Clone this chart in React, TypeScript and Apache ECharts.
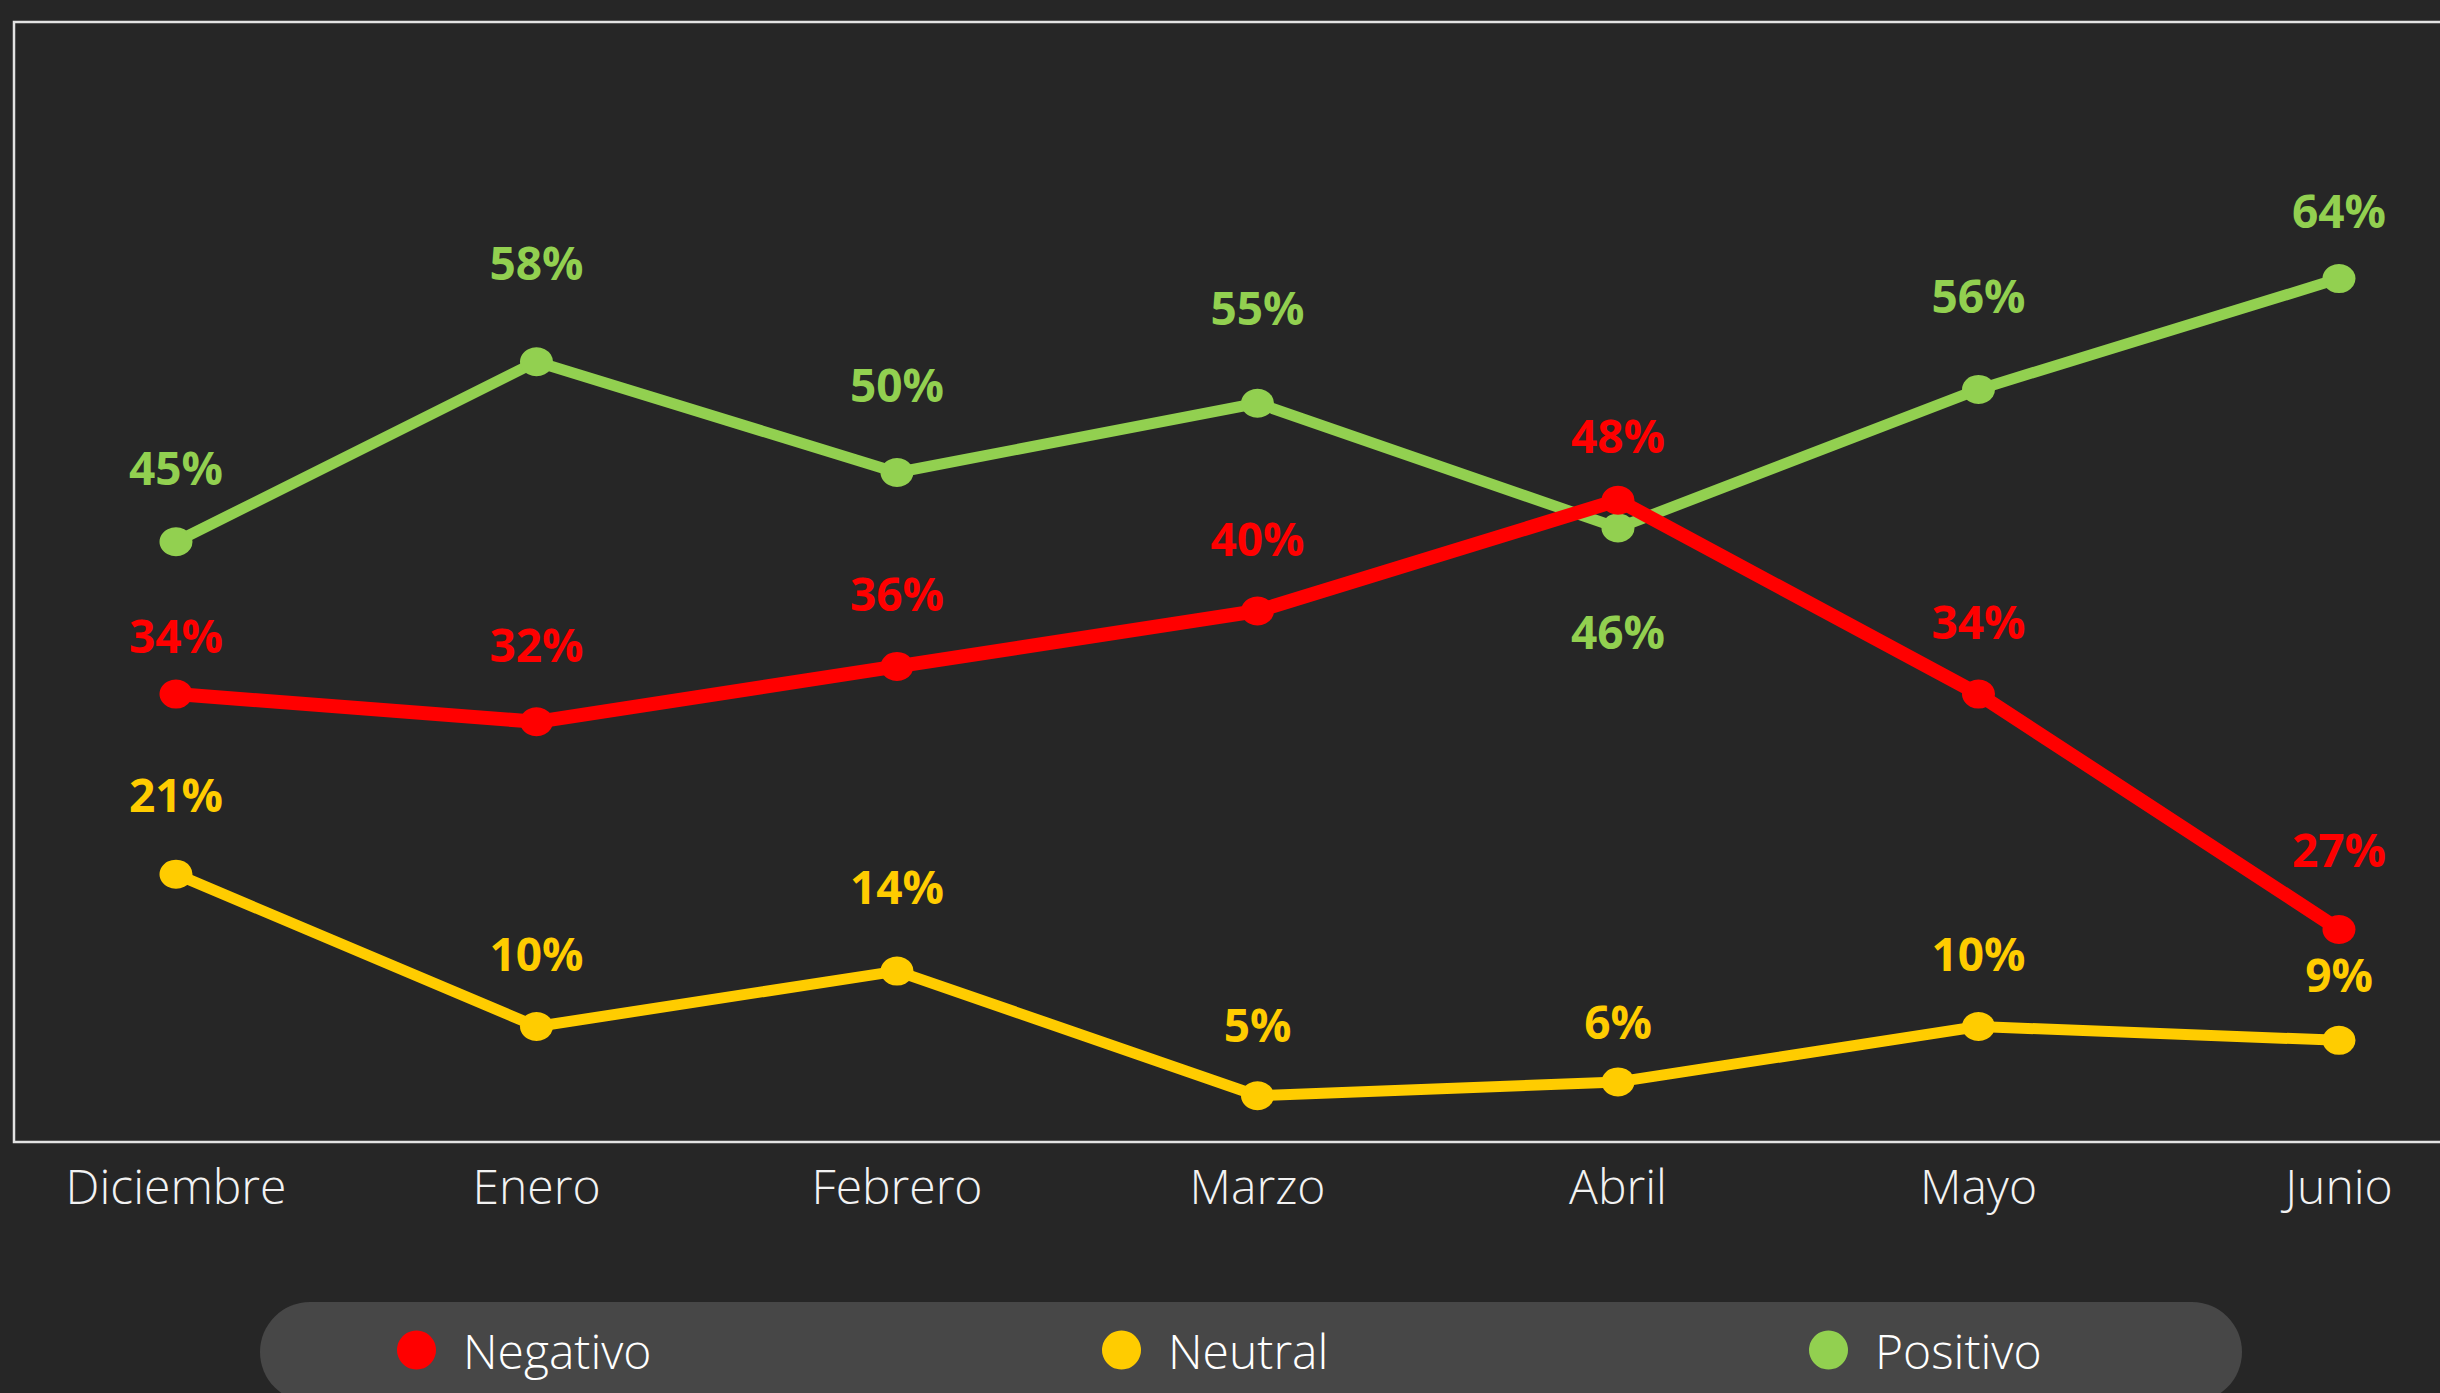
import React, { useEffect, useRef } from "react";
import * as echarts from "echarts";

// ---- data ----
const months = ["Diciembre", "Enero", "Febrero", "Marzo", "Abril", "Mayo", "Junio"];
// Negativo: the June point sits at the 17% level in the source, while its printed label reads 27%
const negativoValues = [34, 32, 36, 40, 48, 34, 17];
const negativoLabels = ["34%", "32%", "36%", "40%", "48%", "34%", "27%"];
const neutralValues = [21, 10, 14, 5, 6, 10, 9];
const neutralLabels = ["21%", "10%", "14%", "5%", "6%", "10%", "9%"];
const positivoValues = [45, 58, 50, 55, 46, 56, 64];
const positivoLabels = ["45%", "58%", "50%", "55%", "46%", "56%", "64%"];
const positivoLabelBelow = [false, false, false, false, true, false, false];
const seriesNames = ["Negativo", "Neutral", "Positivo"];

// ---- layout: small vertical nudges of individual data labels (px) ----
const negativoLabelNudge = [12, -6, -2, -2, 6, -2, -9];
const neutralLabelNudge = [-9, -2, -14, 0, 11, -2, 5];
const positivoLabelNudge = [-3, -28, -17, -25, 0, -23, 3];

const RED = "#FF0000";
const YELLOW = "#FFCC00";
const GREEN = "#92D050";
const LABEL_FONT = "'Open Sans', 'Noto Sans', sans-serif";

function buildData(values: number[], nudge: number[], below?: boolean[]) {
  return values.map((v, i) => {
    const label: any = { offset: [0, nudge[i]] };
    if (below && below[i]) {
      label.position = "bottom";
      label.distance = 66;
    }
    return { value: v, label };
  });
}

function lineSeries(
  name: string,
  values: number[],
  labels: string[],
  nudge: number[],
  color: string,
  width: number,
  z: number,
  below?: boolean[]
) {
  return {
    name,
    type: "line",
    z,
    data: buildData(values, nudge, below),
    symbol: "circle",
    symbolSize: [33, 29],
    showSymbol: true,
    lineStyle: { color, width, cap: "round", join: "round" },
    itemStyle: { color },
    label: {
      show: true,
      position: "top",
      distance: 34,
      color,
      fontFamily: LABEL_FONT,
      fontWeight: 700,
      fontSize: 46,
      lineHeight: 46,
      formatter: (p: any) => labels[p.dataIndex],
    },
    emphasis: { disabled: true },
  };
}

function legendFor(name: string, left: number) {
  return {
    data: [name],
    left,
    top: 1321,
    orient: "horizontal",
    icon: "circle",
    itemWidth: 39,
    itemHeight: 39,
    selectedMode: false,
    z: 10,
    textStyle: {
      color: "#ffffff",
      fontFamily: "'Open Sans', sans-serif",
      fontWeight: 300,
      fontSize: 48,
      lineHeight: 39,
      padding: [0, 0, 0, 22],
    },
  };
}

export default function App() {
  const ref = useRef<HTMLDivElement>(null);

  useEffect(() => {
    if (!ref.current) return;
    const chart = echarts.init(ref.current, undefined, { renderer: "svg" });
    chart.setOption({
      animation: false,
      backgroundColor: "#262626",
      grid: { left: 176, right: 101, top: 57, bottom: 228, containLabel: false },
      xAxis: {
        type: "category",
        data: months,
        boundaryGap: false,
        axisLine: { show: false },
        axisTick: { show: false },
        splitLine: { show: false },
        axisLabel: {
          color: "#f2f2f2",
          fontFamily: "'Open Sans', sans-serif",
          fontWeight: 300,
          fontSize: 48,
          lineHeight: 48,
          margin: -4,
          interval: 0,
        },
      },
      yAxis: {
        type: "value",
        min: 0,
        max: 80,
        show: false,
        splitLine: { show: false },
      },
      legend: [
        legendFor(seriesNames[0], 392),
        legendFor(seriesNames[1], 1097),
        legendFor(seriesNames[2], 1804),
      ],
      graphic: [
        {
          type: "rect",
          z: 0,
          silent: true,
          shape: { x: 14, y: 22, width: 2600, height: 1120 },
          style: { fill: "none", stroke: "#e2e2e2", lineWidth: 2.5 },
        },
        {
          type: "rect",
          z: 0,
          silent: true,
          shape: { x: 260, y: 1302, width: 1982, height: 100, r: 50 },
          style: { fill: "#474747" },
        },
      ],
      series: [
        lineSeries(seriesNames[0], negativoValues, negativoLabels, negativoLabelNudge, RED, 14, 4),
        lineSeries(seriesNames[1], neutralValues, neutralLabels, neutralLabelNudge, YELLOW, 11, 3),
        lineSeries(seriesNames[2], positivoValues, positivoLabels, positivoLabelNudge, GREEN, 11, 3, positivoLabelBelow),
      ],
    });
    return () => chart.dispose();
  }, []);

  return (
    <div
      ref={ref}
      style={{ position: "fixed", left: 0, top: 0, width: 2440, height: 1393 }}
    />
  );
}
